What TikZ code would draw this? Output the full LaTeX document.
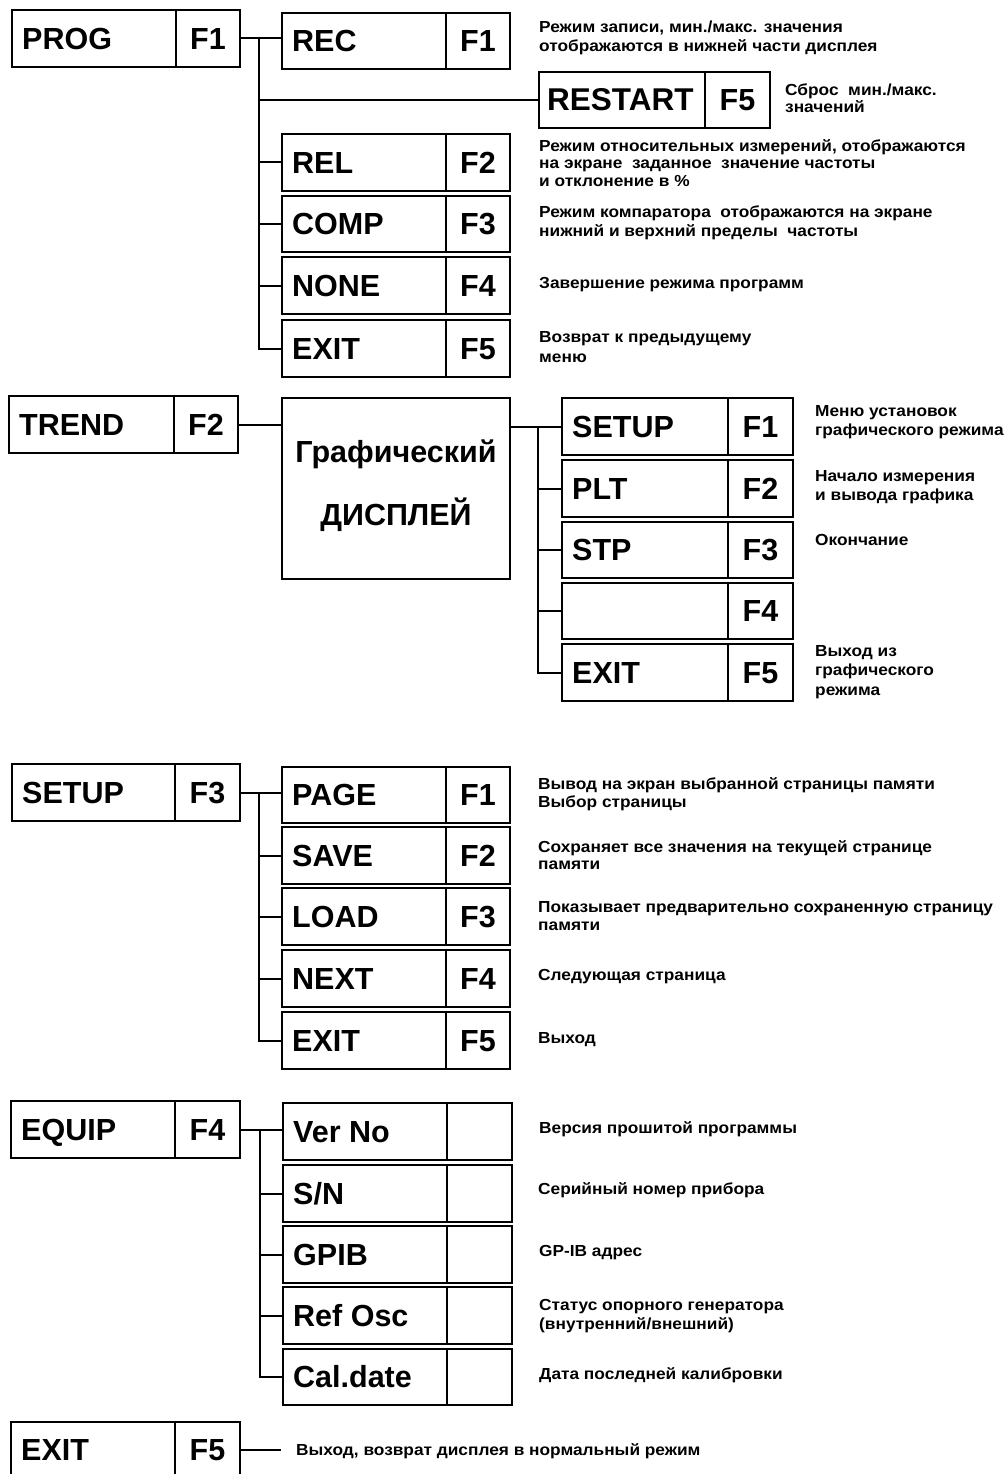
\documentclass[tikz,border=0pt]{standalone}
\usepackage{fontspec}
\setmainfont{Liberation Sans}
\newfontfamily\descfam[FakeStretch=1.08]{Liberation Sans}
\newcommand\bigf{\fontsize{30.5}{36}\selectfont\bfseries}
\newcommand\descf{\descfam\fontsize{16}{19.5}\selectfont\bfseries}
\newcommand\desctf{\descfam\fontsize{16}{17.5}\selectfont\bfseries}
\tikzset{
  cell/.style={draw, line width=2pt, inner sep=0pt, outer sep=0pt, font=\bigf, text height=21.8pt, text depth=0pt},
  lbl/.style={inner sep=0pt, font=\bigf, text height=21.8pt, text depth=0pt},
  conn/.style={line width=2pt},
  desc/.style={inner sep=0pt, align=left, anchor=west, font=\descf},
  desct/.style={inner sep=0pt, align=left, anchor=west, font=\desctf},
}
% name, x1, xdiv, x2, y1, y2, label, key
\newcommand\twobox[8]{%
  \pgfmathsetmacro\wa{#3-#2}\pgfmathsetmacro\wb{#4-#3}\pgfmathsetmacro\hh{#6-#5}%
  \node[cell, minimum width=\wa pt, minimum height=\hh pt, anchor=north west] (#1) at (#2,#5) {};
  \node[cell, minimum width=\wb pt, minimum height=\hh pt, anchor=north west] (#1f) at (#3,#5) {#8};
  \node[lbl, anchor=west] (#1t) at ([xshift=10pt]#1.west) {#7};
}
\begin{document}
\begin{tikzpicture}[x=1pt,y=-1pt]
\useasboundingbox (0,0) rectangle (1008,1474);

% ---------- PROG ----------
\twobox{prog}{12}{176}{240}{10}{67}{PROG}{F1}
\twobox{rec}{282}{446}{510}{13}{69}{REC}{F1}
\twobox{restart}{539}{705}{770}{72}{128}{}{F5}
\node[lbl, anchor=west, font=\fontsize{31.5}{36}\selectfont\bfseries] (restartt) at ([xshift=8pt]restart.west) {RESTART};
\twobox{rel}{282}{446}{510}{134}{191}{REL}{F2}
\twobox{comp}{282}{446}{510}{196}{252}{COMP}{F3}
\twobox{none}{282}{446}{510}{257}{314}{NONE}{F4}
\twobox{exa}{282}{446}{510}{320}{377}{EXIT}{F5}
\coordinate (ta) at (259,0);
\draw[conn] (progf.east) -- (rec.west |- progf.east);
\draw[conn] (ta |- progf.east) |- (exa.west);
\draw[conn] (ta |- restart.west) -- (restart.west);
\draw[conn] (ta |- rel.west) -- (rel.west);
\draw[conn] (ta |- comp.west) -- (comp.west);
\draw[conn] (ta |- none.west) -- (none.west);

\node[desc] (drec) at (539,38) {Режим записи, мин./макс. значения\\отображаются в нижней части дисплея};
\node[desct] (drestart) at (785,98) {Сброс\ \ мин./макс.\\значений};
\node[desct] (drel) at (539,163) {Режим относительных измерений, отображаются\\на экране\ \ заданное\ \ значение частоты\\и отклонение в \%};
\node[desc] (dcomp) at (539,223) {Режим компаратора\ \ отображаются\ на экране\\нижний и верхний пределы\ \ частоты};
\node[desc] (dnone) at (539,285) {Завершение режима программ};
\node[desc] (dexa) at (539,347) {Возврат к предыдущему\\меню};

% ---------- TREND ----------
\twobox{trend}{9}{174}{238}{396}{453}{TREND}{F2}
\node[cell, minimum width=228pt, minimum height=181pt, anchor=north west] (disp) at (282,398) {};
\node[lbl] (dispa) at (396,452) {Графический};
\node[lbl] (dispb) at (396,515) {ДИСПЛЕЙ};
\twobox{setg}{562}{728}{793}{398}{455}{SETUP}{F1}
\twobox{plt}{562}{728}{793}{460}{517}{PLT}{F2}
\twobox{stp}{562}{728}{793}{522}{578}{STP}{F3}
\twobox{ffour}{562}{728}{793}{583}{639}{}{F4}
\twobox{exb}{562}{728}{793}{644}{701}{EXIT}{F5}
\coordinate (tb) at (538,0);
\draw[conn] (trendf.east) -- (disp.west |- trendf.east);
\draw[conn] (disp.east |- setg.west) -- (setg.west);
\draw[conn] (tb |- setg.west) |- (exb.west);
\draw[conn] (tb |- plt.west) -- (plt.west);
\draw[conn] (tb |- stp.west) -- (stp.west);
\draw[conn] (tb |- ffour.west) -- (ffour.west);

\node[desc] (dsetg) at (815,422) {Меню установок\\графического режима};
\node[desc] (dplt) at (815,487) {Начало\ измерения\\и вывода графика};
\node[desc] (dstp) at (815,540) {Окончание};
\node[desc] (dexb) at (815,672) {Выход из\\графического\\режима};

% ---------- SETUP ----------
\twobox{setup}{12}{175}{240}{764}{821}{SETUP}{F3}
\twobox{page}{282}{446}{510}{767}{823}{PAGE}{F1}
\twobox{save}{282}{446}{510}{827}{884}{SAVE}{F2}
\twobox{load}{282}{446}{510}{888}{945}{LOAD}{F3}
\twobox{next}{282}{446}{510}{950}{1007}{NEXT}{F4}
\twobox{exc}{282}{446}{510}{1012}{1069}{EXIT}{F5}
\coordinate (tc) at (259,0);
\draw[conn] (setupf.east) -- (page.west |- setupf.east);
\draw[conn] (tc |- setupf.east) |- (exc.west);
\draw[conn] (tc |- save.west) -- (save.west);
\draw[conn] (tc |- load.west) -- (load.west);
\draw[conn] (tc |- next.west) -- (next.west);

\node[desct] (dpage) at (538,794) {Вывод на экран выбранной страницы памяти\\Выбор страницы};
\node[desct] (dsave) at (538,855) {Сохраняет все значения на текущей странице\\памяти};
\node[desct] (dload) at (538,916) {Показывает предварительно сохраненную страницу\\памяти};
\node[desc] (dnext) at (538,977) {Следующая страница};
\node[desc] (dexc) at (538,1040) {Выход};

% ---------- EQUIP ----------
\twobox{equip}{11}{175}{240}{1101}{1158}{EQUIP}{F4}
\twobox{ver}{283}{447}{512}{1103}{1160}{Ver No}{}
\twobox{sn}{283}{447}{512}{1165}{1222}{S/N}{}
\twobox{gpib}{283}{447}{512}{1226}{1283}{GPIB}{}
\twobox{ref}{283}{447}{512}{1287}{1344}{Ref Osc}{}
\twobox{cal}{283}{447}{512}{1349}{1405}{Cal.date}{}
\coordinate (td) at (260,0);
\draw[conn] (equipf.east) -- (ver.west |- equipf.east);
\draw[conn] (td |- equipf.east) |- (cal.west);
\draw[conn] (td |- sn.west) -- (sn.west);
\draw[conn] (td |- gpib.west) -- (gpib.west);
\draw[conn] (td |- ref.west) -- (ref.west);

\node[desc] (dver) at (539,1129) {Версия прошитой программы};
\node[desc] (dsn) at (538,1190) {Серийный номер прибора};
\node[desc] (dgpib) at (539,1253) {GP-IB адрес};
\node[desc] (dref) at (539,1316) {Статус опорного генератора\\(внутренний/внешний)};
\node[desc] (dcal) at (539,1375) {Дата последней калибровки};

% ---------- EXIT ----------
\twobox{exd}{11}{175}{240}{1422}{1478}{EXIT}{F5}
\node[desc] (dexd) at (296,1451) {Выход, возврат дисплея в нормальный режим};
\coordinate (ea) at (281,0);
\draw[conn] (exdf.east) -- (exdf.east -| ea);
\end{tikzpicture}
\end{document}
